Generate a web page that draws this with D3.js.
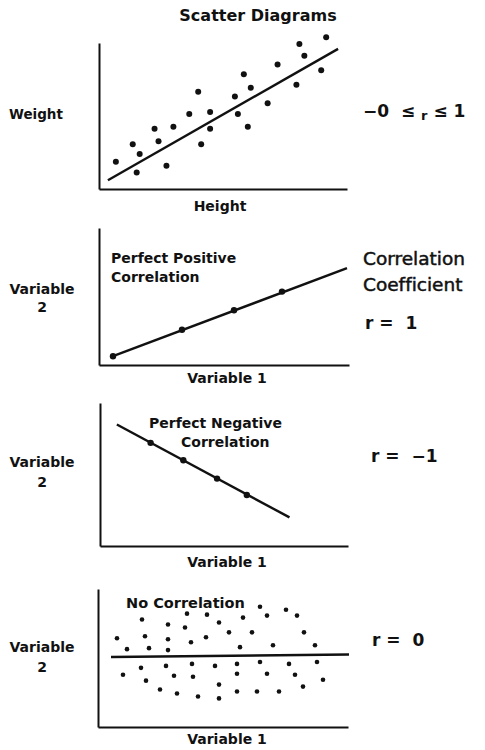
<!DOCTYPE html>
<meta charset="utf-8">
<style>
body { margin: 0; background: #fff; }
svg { display: block; }
text { font-family: "DejaVu Sans", sans-serif; fill: #111; font-variant-ligatures: none; }
.lab { font-weight: bold; font-size: 14px; }
.big { font-weight: bold; font-size: 17px; white-space: pre; }
.med { font-size: 18.5px; stroke: #111; stroke-width: 0.5px; }
.axis path { stroke: #111; stroke-width: 2px; }
.fit { stroke: #111; stroke-width: 2.4px; fill: none; }
.dot { fill: #111; }
</style>
<svg width="485" height="750"></svg>
<script src="https://d3js.org/d3.v7.min.js"></script>
<script>

// data (x 0-25, y 0-15 / 0-14 abstract units)
var heightWeightPts = [[1.7,2.8],[3.4,4.6],[3.8,1.7],[4.1,3.6],[5.6,6.2],[6.0,4.9],[6.8,2.4],[7.5,6.4],
  [9.1,7.7],[10.0,10.0],[10.3,4.6],[11.2,7.9],[11.2,6.2],[13.7,9.5],[14.0,7.7],[14.6,11.8],[15.0,6.4],
  [15.3,10.4],[17.0,8.8],[18.0,12.8],[19.9,10.7],[20.2,14.9],[20.7,13.7],[22.4,12.2],[22.9,15.6]];
var heightWeightFit = [[0.9,0.9],[24.1,14.4]];

var positivePts = [[1.4,0.9],[8.3,3.6],[13.5,5.6],[18.3,7.5]];
var positiveLine = [[1.4,0.9],[24.8,9.9]];

var negativePts = [[5.1,10.1],[8.4,8.4],[11.8,6.6],[14.8,5.0]];
var negativeLine = [[1.7,11.9],[19.1,2.8]];

var nonePts = [[1.9,9.0],[2.9,7.9],[4.4,10.9],[4.7,9.2],[5.1,8.0],[7.0,10.4],[7.0,8.9],[7.0,7.8],
  [8.7,10.1],[8.9,11.5],[9.3,8.6],[10.8,9.1],[10.9,11.4],[12.1,10.6],[13.1,9.6],[14.2,8.1],[14.5,11.1],
  [15.4,9.6],[16.2,12.2],[16.9,11.3],[17.5,8.3],[18.8,11.9],[19.9,11.3],[20.6,9.6],[21.7,8.3],
  [2.5,5.3],[4.3,6.0],[4.8,4.7],[6.2,3.8],[6.8,6.2],[7.6,5.2],[7.9,3.4],[9.4,6.4],[9.5,5.1],[10.0,3.1],
  [11.7,6.2],[12.1,4.3],[12.1,2.9],[13.9,6.4],[13.9,5.4],[13.9,3.6],[15.9,3.6],[16.2,6.6],[16.9,5.4],
  [18.1,3.6],[19.1,6.4],[19.7,5.3],[20.5,4.1],[21.9,6.6],[22.5,4.8]];
var noneLine = [[1.3,7.1],[25.1,7.35]];

var svg = d3.select("svg");

function panel(x0, x1, yBot, yTop, yMax, pts, line, r) {
  var x = d3.scaleLinear().domain([0, 25]).range([x0, x1]);
  var y = d3.scaleLinear().domain([0, yMax]).range([yBot, yTop]);

  svg.append("g").attr("class", "axis")
    .attr("transform", "translate(0," + yBot + ")")
    .call(d3.axisBottom(x).ticks(0).tickSizeOuter(0));
  svg.append("g").attr("class", "axis")
    .attr("transform", "translate(" + x0 + ",0)")
    .call(d3.axisLeft(y).ticks(0).tickSizeOuter(0));

  svg.append("path").attr("class", "fit")
    .attr("d", d3.line().x(function(d) { return x(d[0]); }).y(function(d) { return y(d[1]); })(line));

  svg.append("g").selectAll("circle")
    .data(pts)
    .enter().append("circle")
    .attr("class", "dot")
    .attr("cx", function(d) { return x(d[0]); })
    .attr("cy", function(d) { return y(d[1]); })
    .attr("r", r);
}

function label(txt, x, y, cls, anchor, size) {
  var t = svg.append("text").attr("x", x).attr("y", y).attr("class", cls).text(txt);
  if (anchor) t.attr("text-anchor", anchor);
  if (size) t.style("font-size", size + "px");
  return t;
}

panel(99, 347, 189, 43, 15, heightWeightPts, heightWeightFit, 3);
panel(99, 349, 365, 228, 14, positivePts, positiveLine, 3.2);
panel(100, 348, 546, 403, 14, negativePts, negativeLine, 3.2);
panel(98, 348, 727, 589, 14, nonePts, noneLine, 2.3);

// panel 1 texts
label("Scatter Diagrams", 258, 21, "lab", "middle", 16);
label("Weight", 9, 119, "lab", null, 13.5);
label("Height", 220, 211, "lab", "middle");
var ineq = svg.append("text").attr("x", 363).attr("y", 117).attr("class", "big");
ineq.append("tspan").text("\u22120  \u2264 ");
ineq.append("tspan").attr("dy", 3).style("font-size", "13px").text("r");
ineq.append("tspan").attr("dy", -3).text(" \u2264 1");

// panel 2 texts
label("Variable", 42, 294, "lab", "middle");
label("2", 42, 312, "lab", "middle");
label("Perfect Positive", 111, 263, "lab");
label("Correlation", 111, 282, "lab");
label("Variable 1", 227, 383, "lab", "middle");
label("Correlation", 363, 265, "med");
label("Coefficient", 363, 291, "med");
label("r =  1", 365, 329, "big");

// panel 3 texts
label("Variable", 42, 467, "lab", "middle");
label("2", 42, 487, "lab", "middle");
label("Perfect Negative", 149, 428, "lab");
label("Correlation", 181, 447, "lab");
label("Variable 1", 227, 567, "lab", "middle");
label("r =  \u22121", 371, 462, "big");

// panel 4 texts
label("No Correlation", 126, 608, "lab", null, 14.5);
label("Variable", 42, 652, "lab", "middle");
label("2", 42, 672, "lab", "middle");
label("Variable 1", 227, 744, "lab", "middle");
label("r =  0", 372, 646, "big");

</script>
